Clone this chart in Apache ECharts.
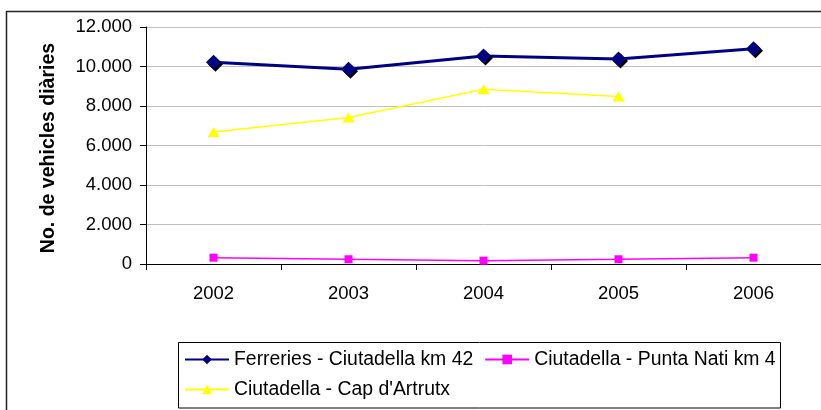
<!DOCTYPE html>
<html>
<head>
<meta charset="utf-8">
<script src="https://cdn.jsdelivr.net/npm/echarts@6/dist/echarts.min.js"></script>
<style>
html,body{margin:0;padding:0;background:#fff;}
#c{width:821px;height:410px;}
</style>
</head>
<body>
<div id="c"></div>
<script>
var years = ['2002', '2003', '2004', '2005', '2006'];
var ferreries = [10220, 9860, 10530, 10380, 10900];
var puntaNati = [320, 240, 170, 240, 320];
var capArtrutx = [6680, 7420, 8850, 8480, null];
var seriesNames = ['Ferreries - Ciutadella km 42', 'Ciutadella - Punta Nati km 4', "Ciutadella - Cap d'Artrutx"];
var yTicks = [0, 2000, 4000, 6000, 8000, 10000, 12000];

var font = '"Liberation Sans", Arial, sans-serif';
var chart = echarts.init(document.getElementById('c'), null, {renderer: 'canvas'});
chart.setOption({
  animation: false,
  backgroundColor: '#fff',
  textStyle: {fontFamily: font},
  graphic: [{
    type: 'rect', silent: true, z: -1,
    shape: {x: 6.5, y: 11.5, width: 900, height: 500},
    style: {fill: 'none', stroke: '#222', lineWidth: 1.5}
  }, {
    type: 'rect', silent: true, z: 10,
    shape: {x: 178.5, y: 342.5, width: 602, height: 65.5},
    style: {fill: 'none', stroke: '#000', lineWidth: 1}
  }],
  grid: {left: 146, top: 27, right: -12, bottom: 146, containLabel: false},
  legend: {
    left: 178, top: 345, width: 600,
    padding: [5, 4, 0, 6],
    borderWidth: 0,
    itemWidth: 44, itemHeight: 12, itemGap: 11,
    textStyle: {fontSize: 19.4, color: '#000', fontFamily: font},
    data: seriesNames
  },
  xAxis: {
    type: 'category', data: years, boundaryGap: true,
    axisLine: {lineStyle: {color: '#000', width: 1}},
    axisTick: {show: true, length: 6, lineStyle: {color: '#000'}},
    axisLabel: {fontSize: 18.5, color: '#000', margin: 20, fontFamily: font},
    splitLine: {show: false}
  },
  yAxis: {
    type: 'value', min: yTicks[0], max: yTicks[yTicks.length - 1], interval: 2000,
    name: 'No. de vehicles diàries', nameLocation: 'middle', nameGap: 87,
    nameTextStyle: {fontSize: 19.5, fontWeight: 'bold', color: '#000', fontFamily: font, padding: [0, 0, 0, -5]},
    axisLine: {show: true, lineStyle: {color: '#000', width: 1}},
    axisTick: {show: true, length: 6, lineStyle: {color: '#000'}},
    axisLabel: {fontSize: 18.5, color: '#000', margin: 14, fontFamily: font,
      formatter: function (v) { return v === 0 ? '0' : (v / 1000) + '.000'; }},
    splitLine: {show: true, lineStyle: {color: '#c0c0c0', width: 1}}
  },
  series: [{
    name: seriesNames[0], type: 'line', data: ferreries,
    symbol: 'diamond', symbolSize: 15,
    lineStyle: {color: '#000080', width: 3},
    itemStyle: {color: '#000080', shadowColor: '#000', shadowOffsetX: 2, shadowOffsetY: 2, shadowBlur: 0},
    z: 3
  }, {
    name: seriesNames[1], type: 'line', data: puntaNati,
    symbol: 'rect', symbolSize: 8,
    lineStyle: {color: '#ff00ff', width: 1.5},
    itemStyle: {color: '#ff00ff'}
  }, {
    name: seriesNames[2], type: 'line', data: capArtrutx,
    symbol: 'triangle', symbolSize: [12, 10],
    lineStyle: {color: '#ffff00', width: 1.5},
    itemStyle: {color: '#ffff00'}
  }]
});
</script>
</body>
</html>
